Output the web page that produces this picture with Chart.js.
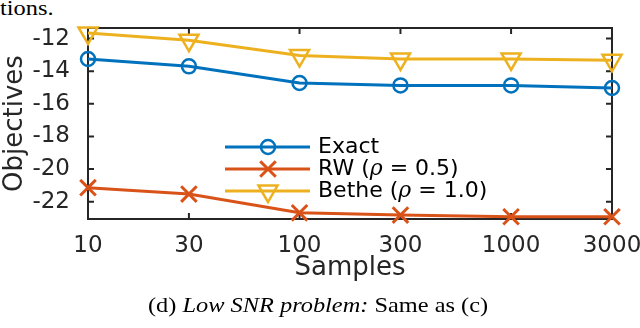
<!DOCTYPE html>
<html>
<head>
<meta charset="utf-8">
<script src="https://cdn.jsdelivr.net/npm/chart.js@4.4.0/dist/chart.umd.min.js"></script>
<style>
  html, body { margin: 0; padding: 0; background: #fff; }
  #wrap { position: relative; width: 640px; height: 328px; overflow: hidden; }
  #chart { position: absolute; left: 0; top: 0; }
  .serif {
    position: absolute; white-space: nowrap; color: #000;
    font-family: "Liberation Serif", "Times New Roman", serif;
    font-size: 21px; line-height: 21px;
    transform-origin: 0 0; transform: scaleX(1.16);
  }
</style>
</head>
<body>
<div id="wrap">
  <div class="serif" style="left:0;top:-2px;">tions.</div>
  <canvas id="chart" width="640" height="328"></canvas>
  <div class="serif" style="left:148px;top:295px;">(d) <i>Low SNR problem:</i> Same as (c)</div>
</div>
<script>
// values
const samples = [10, 30, 100, 300, 1000, 3000];
const exact = [-13.25, -13.70, -14.72, -14.87, -14.87, -15.03];
const rw = [-21.14, -21.53, -22.68, -22.82, -22.92, -22.92];
const bethe = [-11.65, -12.10, -13.04, -13.25, -13.25, -13.33];
const seriesLabels = ["Exact", "RW (\u03c1 = 0.5)", "Bethe (\u03c1 = 1.0)"];
const xTicks = [10, 30, 100, 300, 1000, 3000];
const yTicks = [-22, -20, -18, -16, -14, -12];

const axisColor = "#262626";
const sans = '"DejaVu Sans", sans-serif';

function pts(ys) {
  return samples.map((x, i) => ({ x: x, y: ys[i] }));
}

// MATLAB style box with inward ticks
const boxPlugin = {
  id: "box",
  beforeDatasetsDraw(chart) {
    const ctx = chart.ctx;
    const a = chart.chartArea;
    const xs = chart.scales.x, ys = chart.scales.y;
    const tl = 6;
    ctx.save();
    ctx.strokeStyle = axisColor;
    ctx.lineWidth = 2;
    ctx.beginPath();
    xTicks.forEach(v => {
      const px = xs.getPixelForValue(v);
      ctx.moveTo(px, a.bottom); ctx.lineTo(px, a.bottom - tl);
      ctx.moveTo(px, a.top); ctx.lineTo(px, a.top + tl);
    });
    yTicks.forEach(v => {
      const py = ys.getPixelForValue(v);
      ctx.moveTo(a.left, py); ctx.lineTo(a.left + tl, py);
      ctx.moveTo(a.right, py); ctx.lineTo(a.right - tl, py);
    });
    ctx.stroke();
    ctx.strokeRect(a.left, a.top, a.right - a.left, a.bottom - a.top);
    ctx.restore();
  }
};

// legend drawn inside the axes, no frame
const legendPlugin = {
  id: "insideLegend",
  afterDatasetsDraw(chart) {
    const ctx = chart.ctx;
    const x0 = 225, x1 = 310, xm = 268, xt = 318;
    const rows = [147, 169, 191];
    ctx.save();
    chart.data.datasets.forEach((ds, i) => {
      const y = rows[i];
      ctx.strokeStyle = ds.borderColor;
      ctx.lineWidth = ds.borderWidth;
      ctx.beginPath();
      ctx.moveTo(x0, y); ctx.lineTo(x1, y);
      ctx.stroke();
      ctx.fillStyle = "rgba(0,0,0,0)";
      ctx.lineWidth = ds.pointBorderWidth;
      Chart.helpers.drawPoint(ctx, {
        pointStyle: ds.pointStyle,
        radius: ds.pointRadius,
        rotation: ds.pointRotation || 0,
        borderWidth: ds.pointBorderWidth
      }, xm, y);
      // label, rho in italics
      ctx.fillStyle = "#000";
      ctx.textBaseline = "middle";
      let x = xt;
      const parts = ds.label.split("\u03c1");
      parts.forEach((p, k) => {
        ctx.font = "22px " + sans;
        ctx.fillText(p, x, y);
        x += ctx.measureText(p).width;
        if (k < parts.length - 1) {
          ctx.font = 'italic 22px "DejaVu Serif", serif';
          ctx.fillText("\u03c1", x, y);
          x += ctx.measureText("\u03c1").width;
        }
      });
    });
    ctx.restore();
  }
};

function line(label, ys, color, style, radius, rotation, pbw) {
  return {
    label: label,
    data: pts(ys),
    borderColor: color,
    borderWidth: 3,
    pointStyle: style,
    pointRadius: radius,
    pointRotation: rotation,
    pointBorderColor: color,
    pointBorderWidth: pbw,
    pointBackgroundColor: "rgba(0,0,0,0)",
    tension: 0,
    clip: false
  };
}

new Chart(document.getElementById("chart").getContext("2d"), {
  type: "line",
  data: {
    datasets: [
      line(seriesLabels[0], exact, "#0072BD", "circle", 7, 0, 2.5),
      line(seriesLabels[1], rw, "#D95319", "crossRot", 11, 0, 3),
      line(seriesLabels[2], bethe, "#EDB120", "triangle", 11, 180, 2.5)
    ]
  },
  options: {
    responsive: false,
    devicePixelRatio: 1,
    animation: false,
    events: [],
    layout: { padding: { left: 0, right: 28, top: 28, bottom: 44 } },
    plugins: { legend: { display: false }, tooltip: { enabled: false } },
    scales: {
      x: {
        type: "logarithmic",
        min: 10,
        max: 3000,
        grid: { display: false },
        border: { display: false },
        afterBuildTicks: s => { s.ticks = xTicks.map(v => ({ value: v })); },
        afterFit: s => { s.height = 65; s.paddingLeft = 0; s.paddingRight = 0; },
        ticks: {
          autoSkip: false,
          maxRotation: 0,
          padding: 5,
          color: axisColor,
          font: { family: sans, size: 23 },
          callback: v => String(v)
        },
        title: {
          display: true,
          text: "Samples",
          color: axisColor,
          padding: 0,
          font: { family: sans, size: 26 }
        }
      },
      y: {
        type: "linear",
        min: -23.06,
        max: -11.35,
        grid: { display: false },
        border: { display: false },
        afterBuildTicks: s => { s.ticks = yTicks.map(v => ({ value: v })); },
        afterFit: s => { s.width = 88; s.paddingTop = 0; s.paddingBottom = 0; },
        ticks: {
          padding: 10,
          color: axisColor,
          font: { family: sans, size: 23 },
          callback: v => String(v)
        },
        title: {
          display: true,
          text: "Objectives",
          color: axisColor,
          padding: 0,
          font: { family: sans, size: 26 }
        }
      }
    }
  },
  plugins: [boxPlugin, legendPlugin]
});
</script>
</body>
</html>
